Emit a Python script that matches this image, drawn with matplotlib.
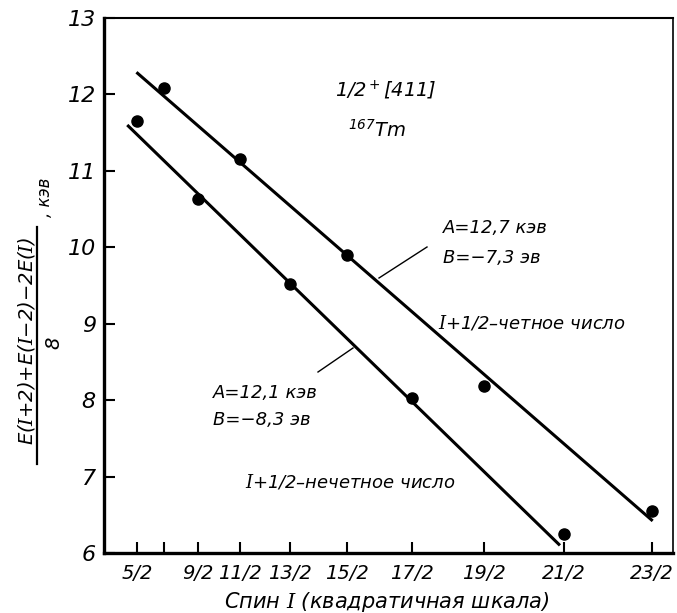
import numpy as np
import matplotlib
matplotlib.use("Agg")
import matplotlib.pyplot as plt
from matplotlib.lines import Line2D

# данные: спин I и [E(I+2)+E(I-2)-2E(I)]/8, кэв
spin_even = [7/2, 11/2, 15/2, 19/2, 23/2]      # I+1/2 - четное число
val_even = [12.08, 11.15, 9.90, 8.18, 6.55]
spin_odd = [5/2, 9/2, 13/2, 17/2, 21/2]        # I+1/2 - нечетное число
val_odd = [11.65, 10.63, 9.52, 8.03, 6.25]

# концы прямых
fit_even_spin = [2.46, 11.51]
fit_even_val = [12.29, 6.42]
fit_odd_spin = [2.02, 10.45]
fit_odd_val = [11.60, 6.10]

tick_spins = [5/2, 7/2, 9/2, 11/2, 13/2, 15/2, 17/2, 19/2, 21/2, 23/2]
tick_labels = ['5/2', '', '9/2', '11/2', '13/2', '15/2', '17/2', '19/2', '21/2', '23/2']
y_ticks = [6, 7, 8, 9, 10, 11, 12, 13]

plt.rcParams['font.family'] = ['DejaVu Sans']
plt.rcParams['font.style'] = 'italic'
plt.rcParams['mathtext.fontset'] = 'custom'
plt.rcParams['mathtext.rm'] = 'DejaVu Sans:italic'
plt.rcParams['mathtext.it'] = 'DejaVu Serif:italic'

W, H = 677, 613
fig = plt.figure(figsize=(W/100, H/100), dpi=100)
ax = fig.add_axes([104/W, 1-553/H, (673-104)/W, (553-18)/H])

# квадратичная шкала: x ~ I(I+1)
fwd = lambda s: s*(s+1)
inv = lambda x: (-1 + np.sqrt(1 + 4*np.clip(x, 0, None)))/2
ax.set_xscale('function', functions=(fwd, inv))
ax.set_xlim(0, 11.73)
ax.set_ylim(6, 13)

ax.plot(fit_even_spin, fit_even_val, color='black', lw=2.2, solid_capstyle='butt')
ax.plot(fit_odd_spin, fit_odd_val, color='black', lw=2.2, solid_capstyle='butt')
ax.plot(spin_even, val_even, 'o', color='black', ms=8)
ax.plot(spin_odd, val_odd, 'o', color='black', ms=8)

ax.set_xticks(tick_spins)
ax.set_xticklabels(tick_labels)
ax.set_xticks([], minor=True)
ax.set_yticks(y_ticks)
ax.tick_params(axis='both', direction='in', length=8, width=1.5, colors='black')
ax.tick_params(axis='x', labelsize=14, pad=8)
ax.tick_params(axis='y', labelsize=16, pad=6)
for lab in ax.get_xticklabels() + ax.get_yticklabels():
    lab.set_style('italic')

ax.spines['left'].set_linewidth(2.4)
ax.spines['bottom'].set_linewidth(2.4)
ax.spines['top'].set_linewidth(1.5)
ax.spines['right'].set_linewidth(1.2)

def P(x, y):
    return (x/W, 1 - y/H)

def ftext(x, y, s, **kw):
    fig.text(*P(x, y), s, transform=fig.transFigure, **kw)

def fline(x1, y1, x2, y2, lw=1.0):
    a, b = P(x1, y1), P(x2, y2)
    fig.add_artist(Line2D([a[0], b[0]], [a[1], b[1]], transform=fig.transFigure,
                          color='black', lw=lw))

# подписи
ftext(335, 90, '1/2$^+$[411]', fontsize=14, va='center', ha='left')
ftext(348, 130, '$^{167}$Tm', fontsize=14, va='center', ha='left')

ftext(443, 228, 'A=12,7 кэв', fontsize=13, va='center', ha='left')
ftext(443, 258, 'B=−7,3 эв', fontsize=13, va='center', ha='left')
fline(427, 247, 379, 278)
ftext(438, 323, '$I$+1/2–четное число', fontsize=13, va='center', ha='left')

ftext(213, 393, 'A=12,1 кэв', fontsize=13, va='center', ha='left')
ftext(213, 420, 'B=−8,3 эв', fontsize=13, va='center', ha='left')
fline(318, 372, 353, 348)
ftext(245, 482, '$I$+1/2–нечетное число', fontsize=13, va='center', ha='left')

# ось y: дробь
ftext(27, 341, 'E($I$+2)+E($I$−2)−2E($I$)', fontsize=14, rotation=90,
      va='center', ha='center')
fline(37, 227, 37, 464, lw=1.6)
ftext(54, 343, '8', fontsize=14, rotation=90, va='center', ha='center')
ftext(45, 197, ', кэв', fontsize=12, rotation=90, va='center', ha='center')

ftext(387, 602, 'Спин $I$ (квадратичная шкала)', fontsize=15, va='center', ha='center')

fig.savefig('out.png', dpi=100)
